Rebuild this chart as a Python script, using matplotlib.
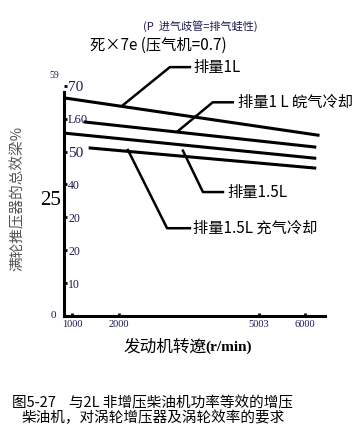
import numpy as np
import matplotlib.pyplot as plt

plt.rcParams['font.family'] = ['Noto Sans CJK SC', 'DejaVu Sans']

# 曲线数据 (转速 r/min, 总效率 %)
rpm_1l = [850, 6280]
eff_1l = [66.3, 55.0]
rpm_1l_cool = [1280, 6210]
eff_1l_cool = [59.0, 51.4]
rpm_15l = [850, 6210]
eff_15l = [55.6, 48.0]
rpm_15l_cool = [1390, 6210]
eff_15l_cool = [51.1, 45.0]

ytick_vals = [10, 20, 30, 40, 50, 60, 70]
ytick_labels = ['10', '20', '20', '40', '50', 'L60', '70']
ytick_sizes = [8.5, 8.5, 8.5, 8.5, 11, 9, 11]
xtick_vals = [1000, 2000, 5003, 6000]
xtick_labels = ['1000', '2000', '5003', '6000']

fig = plt.figure(figsize=(3.57, 4.34), dpi=100)
ax = fig.add_axes([64 / 357, 118 / 434, 261 / 357, 240 / 434])
ax.set_xlim(828, 6430)
ax.set_ylim(0, 73)

for x, y in [(rpm_1l, eff_1l), (rpm_1l_cool, eff_1l_cool),
             (rpm_15l, eff_15l), (rpm_15l_cool, eff_15l_cool)]:
    ax.plot(x, y, color='black', lw=2.2)

for s in ['top', 'right']:
    ax.spines[s].set_visible(False)
ax.spines['left'].set_linewidth(2.2)
ax.spines['bottom'].set_linewidth(2.2)
ax.spines['left'].set_bounds(0, 68)

ax.set_yticks(ytick_vals)
ax.set_yticklabels(ytick_labels, family='Liberation Serif', color='#1a1a50')
ax.tick_params(axis='y', length=2, width=2, direction='in', pad=-3)
for lab, fs in zip(ax.get_yticklabels(), ytick_sizes):
    lab.set_ha('left')
    lab.set_fontsize(fs)
ax.set_xticks(xtick_vals)
ax.set_xticklabels(xtick_labels, family='Liberation Serif', fontsize=7.5, color='#1a1a50')
ax.tick_params(axis='x', length=2, width=2, direction='in', pad=3)

tr = ax.get_yaxis_transform()
ax.text(-0.03, 0, '0', transform=tr, family='Liberation Serif', fontsize=8,
        color='#1a1a50', ha='right', va='center')
ax.text(-0.02, 73, '59', transform=tr, family='Liberation Serif', fontsize=7,
        color='#1a1a50', ha='right', va='center', clip_on=False)
ax.text(-0.01, 35, '25', transform=tr, family='Liberation Serif', fontsize=15,
        color='black', ha='right', va='center')

# 引线与标注
def leader(pts, label, tx, ty):
    xs = [p[0] for p in pts]
    ys = [p[1] for p in pts]
    ax.plot(xs, ys, color='black', lw=1.8, clip_on=False)
    ax.text(tx, ty, label, fontsize=11, va='center', ha='left', clip_on=False)

leader([(2090, 64.1), (3100, 75.7), (3530, 75.7)], '排量1L', 3600, 75.7)
leader([(3270, 56.2), (4020, 65.0), (4450, 65.0)], '排量1 L 皖气冷却', 4560, 65.0)
leader([(3380, 50.3), (3810, 37.7), (4240, 37.7)], '排量1.5L', 4330, 37.7)
leader([(2200, 50.5), (3040, 26.7), (3530, 26.7)], '排量1.5L 充气冷却', 3600, 26.7)

fig.text(200 / 357, 1 - 26 / 434, '(P  进气歧管=排气蛙性)', fontsize=8,
         color='#1a1a50', ha='center', va='center')
fig.text(90 / 357, 1 - 45 / 434, '死×7e (压气机=0.7)', fontsize=11,
         ha='left', va='center')
fig.text(18 / 357, 1 - 198 / 434, '满轮推压器的总效梁%', fontsize=10.5,
         color='#555555', rotation=90, ha='center', va='center')
fig.text(123 / 357, 1 - 347 / 434, '发动机转遼', fontsize=12, ha='left', va='center')
fig.text(205 / 357, 1 - 347 / 434, '(r/min)', fontsize=11, ha='left', va='center',
         family='Liberation Serif', weight='bold')
fig.text(12 / 357, 1 - 403 / 434, '图5-27    与2L 非增压柴油机功率等效的增压',
         fontsize=10.5, ha='left', va='center')
fig.text(22 / 357, 1 - 418 / 434, '柴油机，对涡轮增压器及涡轮效率的要求',
         fontsize=10.5, ha='left', va='center')

fig.savefig('out.png', dpi=100)
